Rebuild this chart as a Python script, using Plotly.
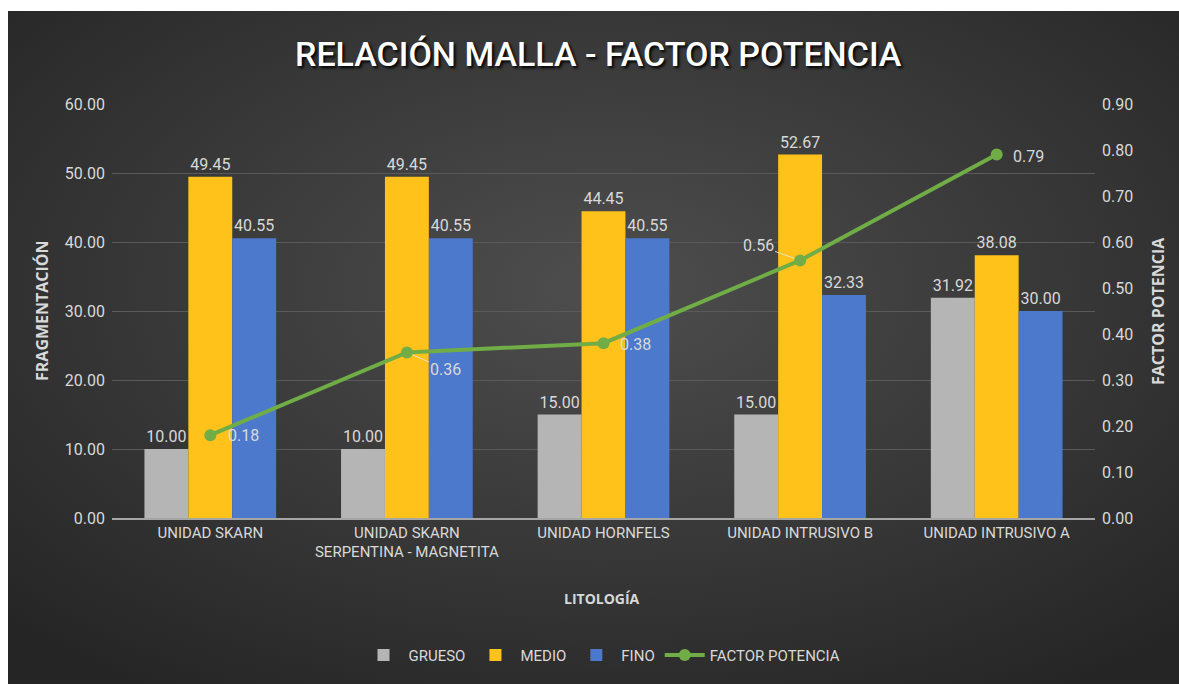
import base64
import plotly.graph_objects as go

categories = ["UNIDAD SKARN", "UNIDAD SKARN<br>SERPENTINA - MAGNETITA", "UNIDAD HORNFELS",
              "UNIDAD INTRUSIVO B", "UNIDAD INTRUSIVO A"]
grueso = [10.00, 10.00, 15.00, 15.00, 31.92]
medio = [49.45, 49.45, 44.45, 52.67, 38.08]
fino = [40.55, 40.55, 40.55, 32.33, 30.00]
factor_potencia = [0.18, 0.36, 0.38, 0.56, 0.79]
# label offsets (px) for the factor labels and whether a leader line is drawn
fp_offsets = [(33, 0, False), (39, 17, True), (32, 1, False), (-42, -15, True), (32, 2, False)]

FONT = "Roboto, Open Sans, sans-serif"
TXT = "#d9d9d9"

W, H = 1179, 684
L, R, T, B = 112, 1179 - 1095, 104, 684 - 523
pw, ph = W - L - R, H - T - B

def px_x(x):  # page px -> paper
    return (x - L) / pw

def px_y(y):
    return (H - B - y) / ph

def svg_src(body):
    s = ('<svg xmlns="http://www.w3.org/2000/svg" viewBox="0 0 100 100" preserveAspectRatio="none">'
         + body + '</svg>')
    return "data:image/svg+xml;base64," + base64.b64encode(s.encode()).decode()

grad = svg_src('<defs><radialGradient id="g" cx="50%" cy="40%" r="70%">'
               '<stop offset="0%" stop-color="#4e4e4e"/><stop offset="100%" stop-color="#252525"/>'
               '</radialGradient></defs><rect x="0" y="0" width="100" height="100" fill="url(#g)"/>')
white = svg_src('<rect x="0" y="0" width="100" height="100" fill="#ffffff"/>')

def img(src, x0, y0, x1, y1):
    return dict(source=src, xref="paper", yref="paper", x=px_x(x0), y=px_y(y0),
                sizex=px_x(x1) - px_x(x0), sizey=px_y(y0) - px_y(y1),
                xanchor="left", yanchor="top", sizing="stretch", layer="below")

fig = go.Figure()
for name, vals, col in [("GRUESO", grueso, "#b5b5b5"), ("MEDIO", medio, "#ffc21a"),
                        ("FINO", fino, "#4c79cb")]:
    fig.add_trace(go.Bar(name=name, x=categories, y=vals, marker=dict(color=col, line=dict(width=0)),
                         text=[f"{v:.2f}" for v in vals], textposition="outside",
                         textfont=dict(color=TXT, size=16, family=FONT), cliponaxis=False))
fig.add_trace(go.Scatter(name="FACTOR POTENCIA", x=categories, y=factor_potencia, yaxis="y2",
                         mode="lines+markers", line=dict(color="#70ad47", width=4),
                         marker=dict(size=12, color="#70ad47"), cliponaxis=False))

annotations = [
    dict(text="RELACIÓN MALLA - FACTOR POTENCIA", xref="paper", yref="paper",
         x=px_x(598), y=px_y(53), showarrow=False, xanchor="center", yanchor="middle",
         font=dict(size=34, color="white", family=FONT, weight=500,
                   shadow="2px 2px 3px #000000")),
    dict(text="<b>FRAGMENTACIÓN</b>", xref="paper", yref="paper", x=px_x(42), y=0.5,
         textangle=-90, showarrow=False, xanchor="center", yanchor="middle",
         font=dict(size=16, color=TXT, family="Open Sans, sans-serif")),
    dict(text="<b>FACTOR POTENCIA</b>", xref="paper", yref="paper", x=px_x(1158), y=0.5,
         textangle=-90, showarrow=False, xanchor="center", yanchor="middle",
         font=dict(size=16, color=TXT, family="Open Sans, sans-serif")),
    dict(text="<b>LITOLOGÍA</b>", xref="paper", yref="paper", x=px_x(602), y=px_y(604),
         showarrow=False, xanchor="center", yanchor="middle",
         font=dict(size=14, color=TXT, family="Open Sans, sans-serif")),
]
for cat, v, (dx, dy, lead) in zip(categories, factor_potencia, fp_offsets):
    if lead:
        annotations.append(dict(x=cat, y=v, xref="x", yref="y2", text=f"{v:.2f}",
                                showarrow=True, arrowhead=0, arrowwidth=1, arrowcolor="#e8e0c8",
                                ax=dx, ay=dy, standoff=6,
                                font=dict(color=TXT, size=16, family=FONT)))
    else:
        annotations.append(dict(x=cat, y=v, xref="x", yref="y2", text=f"{v:.2f}",
                                showarrow=False, xshift=dx, yshift=-dy,
                                font=dict(color=TXT, size=16, family=FONT)))

fig.update_layout(
    width=W, height=H,
    margin=dict(l=L, r=R, t=T, b=B),
    paper_bgcolor="#262626", plot_bgcolor="rgba(0,0,0,0)",
    barmode="group", bargap=0.33, bargroupgap=0,
    font=dict(family=FONT, color=TXT, size=14),
    images=[img(grad, 8, 10, 1200, 710), img(white, -5, -5, 1200, 10), img(white, -5, -5, 8, 710)],
    xaxis=dict(showgrid=False, showline=True, linecolor="#a6a6a6", linewidth=1.5,
               tickfont=dict(size=15, color=TXT), ticks=""),
    yaxis=dict(range=[0, 60], dtick=10, tickformat=".2f", gridcolor="#5a5a5a", gridwidth=1,
               zeroline=False, showline=False, tickfont=dict(size=16, color=TXT), ticks="",
               ticklabelstandoff=6),
    yaxis2=dict(range=[0, 0.9], dtick=0.1, tickformat=".2f", overlaying="y", side="right",
                showgrid=False, zeroline=False, showline=False,
                tickfont=dict(size=16, color=TXT), ticks="", ticklabelstandoff=6),
    legend=dict(orientation="h", x=px_x(602), xanchor="center", y=px_y(662), yanchor="middle",
                font=dict(size=15, color=TXT), bgcolor="rgba(0,0,0,0)", itemwidth=40),
    annotations=annotations,
)

fig.write_html("out.html", config={"displayModeBar": False},
               post_script="document.body.style.margin='0';document.body.style.overflow='hidden';")
